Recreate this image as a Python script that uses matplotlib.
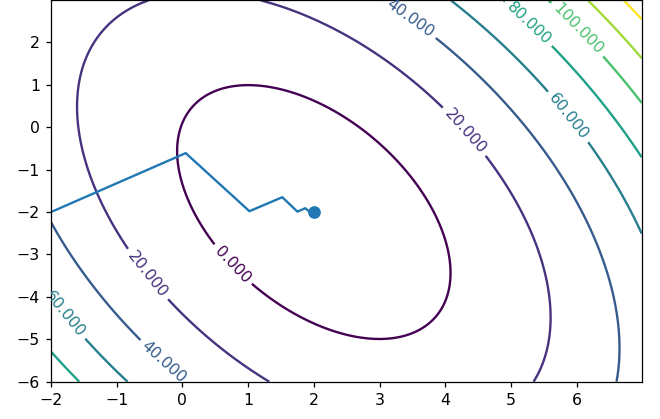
import numpy as np
import matplotlib
matplotlib.use("Agg")
import matplotlib.pyplot as plt

# Quadratic surface f = a*u^2 + b*u*v + c*v^2 + d, with u = x - x0, v = y - y0
center = [2.0, -2.0]
coef_uu, coef_uv, coef_vv, offset = 3.0, 2.0, 1.45, -10.0
levels = [0, 20, 40, 60, 80, 100, 120, 140]

# Grid extent
x_range = [-2.0, 7.0]
y_range = [-6.0, 3.0]

# Descent trajectory
path_x = [-2.0, 0.05, 1.02, 1.52, 1.75, 1.87, 1.94, 1.97, 2.0]
path_y = [-2.0, -0.61, -1.98, -1.65, -1.99, -1.91, -2.0, -1.98, -2.0]

# Label anchor spots for the contour values
label_spots = [(0.77, -3.23), (-0.49, -3.42), (4.33, -0.05), (3.46, 2.55),
               (-0.24, -5.47), (-1.76, -4.36), (5.9, 0.28), (5.29, 2.48),
               (6.05, 2.36)]

xs = np.arange(x_range[0], x_range[1], 0.01)
ys = np.arange(y_range[0], y_range[1], 0.01)
X, Y = np.meshgrid(xs, ys)
U = X - center[0]
V = Y - center[1]
Z = coef_uu * U**2 + coef_uv * U * V + coef_vv * V**2 + offset

dpi = 113
fig = plt.figure(figsize=(660 / dpi, 419 / dpi), dpi=dpi)
ax = fig.add_axes([51 / 660, 1 - 381.7 / 419, (641.7 - 51) / 660, 381.7 / 419 - 0.001])

cs = ax.contour(X, Y, Z, levels=levels, cmap="viridis")
ax.clabel(cs, fmt="%1.3f", fontsize=10, manual=label_spots)

ax.plot(path_x, path_y, color="C0", lw=1.5)
ax.scatter([path_x[-1]], [path_y[-1]], color="C0", s=50, zorder=3)

fig.savefig("out.png", dpi=dpi)
